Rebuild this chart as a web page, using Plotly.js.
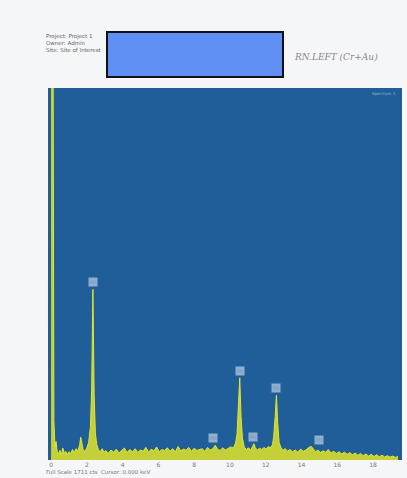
<!DOCTYPE html>
<html>
<head>
<meta charset="utf-8">
<script src="https://cdn.plot.ly/plotly-3.0.1.min.js"></script>
<style>
html,body{margin:0;padding:0;background:#f5f6f7;}
#chart{width:407px;height:478px;}
</style>
</head>
<body>
<div id="chart"></div>
<script>
// Energy (keV) and counts
const energy = [0.00,0.04,0.10,0.16,0.22,0.28,0.34,0.42,0.50,0.58,0.66,0.74,0.82,0.90,1.00,1.10,1.20,1.30,1.40,1.50,1.60,1.66,1.72,1.80,1.90,2.00,2.10,2.20,2.27,2.34,2.41,2.48,2.56,2.66,2.76,2.86,2.96,3.06,3.20,3.35,3.50,3.65,3.80,3.95,4.10,4.25,4.40,4.55,4.70,4.85,5.00,5.15,5.30,5.45,5.60,5.75,5.90,6.05,6.20,6.35,6.50,6.65,6.80,6.95,7.10,7.25,7.40,7.55,7.70,7.85,8.00,8.15,8.30,8.45,8.60,8.75,8.90,9.05,9.18,9.30,9.45,9.60,9.75,9.90,10.05,10.20,10.32,10.40,10.48,10.55,10.62,10.70,10.80,10.92,11.04,11.16,11.26,11.34,11.42,11.54,11.66,11.78,11.90,12.02,12.14,12.26,12.38,12.45,12.53,12.60,12.67,12.75,12.86,12.98,13.10,13.22,13.35,13.50,13.65,13.80,13.95,14.10,14.25,14.40,14.55,14.70,14.80,14.92,15.05,15.20,15.35,15.50,15.65,15.80,15.95,16.10,16.25,16.40,16.55,16.70,16.85,17.00,17.15,17.30,17.45,17.60,17.75,17.90,18.05,18.20,18.35,18.50,18.65,18.80,18.95,19.10,19.25,19.40,19.55,19.70];
const counts = [2400,2400,2400,180,60,85,40,28,45,22,55,30,40,24,38,30,48,34,52,40,70,105,75,45,40,55,80,150,320,785,300,120,70,45,38,52,35,44,30,46,36,50,32,42,55,34,48,38,52,35,46,40,58,36,50,42,60,38,48,44,56,40,52,38,62,42,50,45,58,40,54,44,48,52,40,58,46,52,68,50,44,56,46,52,60,55,80,120,230,378,200,100,60,48,56,44,62,75,56,46,54,48,58,50,62,56,70,110,200,298,170,80,55,46,52,40,48,38,46,36,50,40,46,58,62,44,38,46,34,42,36,48,32,40,30,38,28,36,26,34,24,32,22,30,20,28,18,26,16,24,15,22,14,20,13,18,12,16];

// Peak labels
const peakE = [2.34,9.05,10.55,11.30,12.60,15.00];
const peakC = [785,68,378,75,298,62];
const peakNames = ["Pb","Pb","Pb","Pb","Pb","Pb"];

const tickVals = [0,2,4,6,8,10,12,14,16,18];
const tickText = ["0","2","4","6","8","10","12","14","16","18"];

const trace = {
  x: energy, y: counts, type: 'scatter', mode: 'lines',
  line: {color: '#e6e62a', width: 1, shape: 'linear'},
  fill: 'tozeroy', fillcolor: 'rgba(225,228,40,0.85)',
  hoverinfo: 'skip'
};

const annotations = peakE.map((e, i) => ({
  x: e, y: peakC[i], xref: 'x', yref: 'y', text: peakNames[i],
  showarrow: false, yshift: 7,
  font: {family: 'DejaVu Sans', size: 5, color: '#7d98b4'},
  bgcolor: 'rgba(190,210,230,0.7)', borderpad: 1
}));

annotations.push(
  {xref:'paper', yref:'paper', x:0.99, y:0.997, xanchor:'right', yanchor:'top', showarrow:false,
   text:'Spectrum 1', font:{family:'DejaVu Sans', size:4, color:'#9fb8d0'}},
  {xref:'paper', yref:'paper', x:-0.01, y:-0.033, xanchor:'left', yanchor:'middle', showarrow:false,
   text:'Full Scale 1711 cts  Cursor: 0.000 keV', font:{family:'DejaVu Sans', size:5.5, color:'#777'}},
  {xref:'paper', yref:'paper', x:-0.01, y:1.121, xanchor:'left', yanchor:'middle', showarrow:false, align:'left',
   text:'Project: Project 1<br>Owner: Admin<br>Site: Site of Interest', font:{family:'DejaVu Sans', size:5.5, color:'#666'}},
  {xref:'paper', yref:'paper', x:0.69, y:1.083, xanchor:'left', yanchor:'middle', showarrow:false,
   text:'<i>RN.LEFT (Cr+Au)</i>', font:{family:'DejaVu Serif', size:9, color:'#8a8a8a'}}
);

const layout = {
  width: 407, height: 478,
  margin: {l: 48, r: 5, t: 88, b: 18},
  paper_bgcolor: '#f5f6f7', plot_bgcolor: '#1f5e98',
  showlegend: false,
  xaxis: {range: [-0.17, 19.62], tickvals: tickVals, ticktext: tickText, showgrid: false, zeroline: false,
          ticks: '', tickfont: {family: 'DejaVu Sans', size: 6, color: '#777'}, showline: false},
  yaxis: {range: [0, 1711], showticklabels: false, showgrid: false, zeroline: false, ticks: '', showline: false},
  annotations: annotations,
  shapes: [
    {type:'rect', xref:'paper', yref:'paper', x0:(107-48)/354, x1:(283-48)/354, y0:(460-77)/372, y1:(460-32)/372,
     fillcolor:'#5f8ff2', line:{color:'#111', width:2}, layer:'above'}
  ]
};

Plotly.newPlot('chart', [trace], layout, {displayModeBar: false, staticPlot: true});
</script>
</body>
</html>
